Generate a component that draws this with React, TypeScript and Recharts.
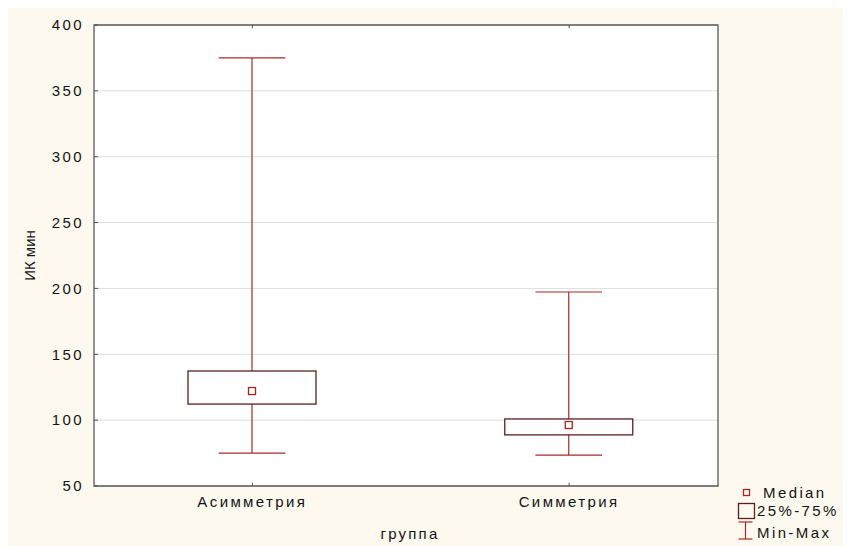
import React from "react"
import {
  ComposedChart,
  Bar,
  XAxis,
  YAxis,
  CartesianGrid,
  ReferenceArea,
  ReferenceLine,
} from "recharts"

const groups = ["Асимметрия", "Симметрия"]
const positions = [0, 1]
const minVals = [75, 73.5]
const q1Vals = [112.2, 88.8]
const medianVals = [122.1, 96.3]
const q3Vals = [137.3, 100.9]
const maxVals = [375, 197.3]
const yTicks = [50, 100, 150, 200, 250, 300, 350, 400]

const WHISKER = "#a82828"
const BOX = "#5c1e1e"
const FONT = "'Liberation Sans', Arial, sans-serif"
const INK = "#141414"

const data = groups.map((name, i) => ({
  name,
  x: positions[i],
  range: [minVals[i], maxVals[i]],
  min: minVals[i],
  q1: q1Vals[i],
  med: medianVals[i],
  q3: q3Vals[i],
  max: maxVals[i],
}))

function BoxShape(props: any) {
  const { x, y, width, height, payload } = props
  const top = Math.min(y, y + height)
  const bot = Math.max(y, y + height)
  const span = payload.max - payload.min
  const py = (v: number) => bot - ((v - payload.min) / span) * (bot - top)
  const cx = x + width / 2
  const cap = width * 0.26
  const yQ1 = py(payload.q1)
  const yQ3 = py(payload.q3)
  const yMed = py(payload.med)
  return (
    <g>
      <line x1={cx} x2={cx} y1={top} y2={yQ3} stroke={WHISKER} strokeWidth={1.2} />
      <line x1={cx} x2={cx} y1={yQ1} y2={bot} stroke={WHISKER} strokeWidth={1.2} />
      <line x1={cx - cap} x2={cx + cap} y1={top} y2={top} stroke={WHISKER} strokeWidth={1.2} />
      <line x1={cx - cap} x2={cx + cap} y1={bot} y2={bot} stroke={WHISKER} strokeWidth={1.2} />
      <rect
        x={x}
        y={yQ3}
        width={width}
        height={yQ1 - yQ3}
        fill="#ffffff"
        stroke={BOX}
        strokeWidth={1.3}
      />
      <rect
        x={cx - 3.5}
        y={yMed - 3.5}
        width={7}
        height={7}
        fill="#ffffff"
        stroke="#b02020"
        strokeWidth={1.3}
      />
    </g>
  )
}

function Legend() {
  const t = { fontFamily: FONT, fontSize: 15, fill: INK, letterSpacing: 2.4 }
  return (
    <svg
      width={121}
      height={62}
      style={{ position: "absolute", left: 722, top: 476 }}
    >
      <rect x={13.5} y={5.5} width={6} height={6} fill="#fff" stroke="#b02020" strokeWidth={1.3} />
      <text x={33} y={13.5} {...t}>Median</text>
      <rect x={8.5} y={19.5} width={16} height={15} fill="none" stroke={BOX} strokeWidth={1.3} />
      <text x={27} y={31.5} {...t}>25%-75%</text>
      <line x1={15.5} x2={15.5} y1={38} y2={55} stroke={WHISKER} strokeWidth={1.2} />
      <line x1={8.5} x2={22.5} y1={38} y2={38} stroke={WHISKER} strokeWidth={1.2} />
      <line x1={8.5} x2={22.5} y1={55} y2={55} stroke={WHISKER} strokeWidth={1.2} />
      <text x={27} y={54} {...t}>Min-Max</text>
    </svg>
  )
}

export default function App() {
  const tickStyle = { fill: INK, fontSize: 15, fontFamily: FONT, letterSpacing: 2.4 }
  return (
    <div style={{ position: "relative", width: 843, height: 538, background: "#fdf9ee" }}>
      <ComposedChart
        width={843}
        height={538}
        data={data}
        margin={{ top: 17, right: 133, bottom: 30, left: 26 }}
      >
        <CartesianGrid vertical={false} stroke="#dedede" fill="#ffffff" />
        <XAxis
          type="number"
          dataKey="x"
          domain={[-0.5, 1.47]}
          ticks={positions}
          tickFormatter={(v: number) => groups[v] ?? ""}
          axisLine={false}
          tickLine={false}
          tickSize={0}
          tickMargin={10}
          height={30}
          tick={tickStyle}
          label={{
            content: (p: any) => (
              <text
                x={p.viewBox.x + p.viewBox.width / 2 + 4}
                y={p.viewBox.y + 53}
                textAnchor="middle"
                fontFamily={FONT}
                fontSize={15}
                fill={INK}
                letterSpacing={2.2}
              >
                группа
              </text>
            ),
          }}
        />
        <YAxis
          type="number"
          domain={[50, 400]}
          ticks={yTicks}
          axisLine={false}
          tickLine={false}
          tickSize={0}
          tickMargin={10}
          width={60}
          tick={tickStyle}
          label={{
            content: (p: any) => {
              const cx = p.viewBox.x - 5
              const cy = p.viewBox.y + p.viewBox.height / 2
              return (
                <text
                  x={cx}
                  y={cy}
                  transform={`rotate(-90 ${cx} ${cy})`}
                  textAnchor="middle"
                  dominantBaseline="central"
                  fontFamily={FONT}
                  fontSize={15}
                  fill={INK}
                >
                  ИК мин
                </text>
              )
            },
          }}
        />
        <Bar
          dataKey="range"
          barSize={128}
          shape={<BoxShape />}
          isAnimationActive={false}
        />
        {positions.map((p) => (
          <ReferenceLine
            key={`b${p}`}
            segment={[{ x: p, y: 50 }, { x: p, y: 52.5 }]}
            stroke="#555"
          />
        ))}
        {positions.map((p) => (
          <ReferenceLine
            key={`t${p}`}
            segment={[{ x: p, y: 400 }, { x: p, y: 397.5 }]}
            stroke="#555"
          />
        ))}
        {yTicks.map((v) => (
          <ReferenceLine
            key={`y${v}`}
            segment={[{ x: -0.5, y: v }, { x: -0.487, y: v }]}
            stroke="#555"
          />
        ))}
        <ReferenceArea
          x1={-0.5}
          x2={1.47}
          y1={50}
          y2={400}
          fill="none"
          fillOpacity={0}
          stroke="#5a5a5a"
          strokeWidth={1.3}
          strokeOpacity={1}
        />
      </ComposedChart>
      <Legend />
    </div>
  )
}
